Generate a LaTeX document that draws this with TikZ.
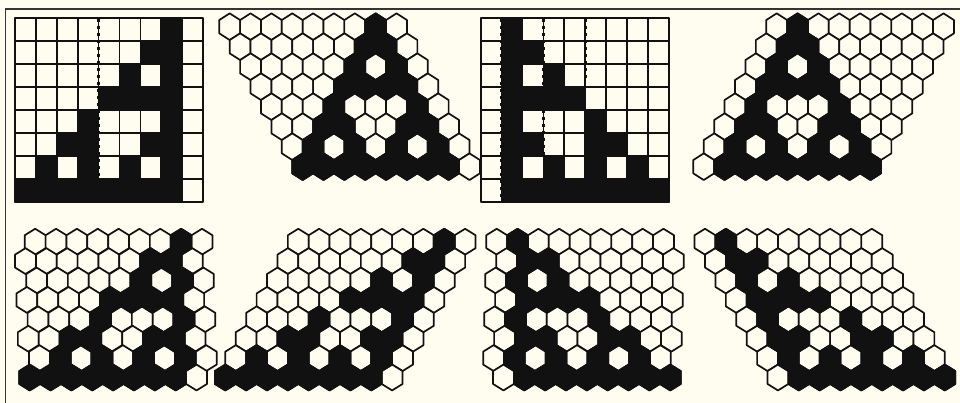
\documentclass[tikz,border=0pt]{standalone}
\definecolor{bgc}{HTML}{FFFDF0}
\definecolor{ink}{HTML}{111111}
\tikzset{
  cellline/.style={draw=ink, line width=1.7pt, line join=round},
  whitecell/.style={cellline, fill=bgc},
  blackcell/.style={cellline, fill=ink},
  dotline/.style={draw=ink, line width=2.6pt, dash pattern=on 3pt off 4pt},
  frameline/.style={draw=ink!85, line width=1.5pt},
}
\newcommand{\blacklist}{0/{7},1/{6,7},2/{5,7},3/{4,5,6,7},4/{3,7},5/{2,3,6,7},6/{1,3,5,7},7/{0,1,2,3,4,5,6,7}}
\newcommand{\hexcell}[4]{%
  \path[#4] ({#1},{#2-#3}) -- ({#1+10.42},{#2-#3/2}) -- ({#1+10.42},{#2+#3/2}) -- ({#1},{#2+#3}) -- ({#1-10.42},{#2+#3/2}) -- ({#1-10.42},{#2-#3/2}) -- cycle;
}
% #1 x0, #2 y0, #3 row step, #4 slant, #5 zigzag, #6 mirror
\newcommand{\hexpanel}[6]{%
  \pgfmathsetmacro{\rv}{#3/1.5}
  \foreach \ri in {0,...,7}{
    \foreach \cj in {0,...,8}{
      \pgfmathsetmacro{\hx}{#1+20.85*(\cj+(#4)*\ri+(#5)*mod(\ri,2))}
      \pgfmathsetmacro{\hy}{#2+#3*\ri}
      \hexcell{\hx}{\hy}{\rv}{whitecell}
    }
  }
  \foreach \ri/\cols in \blacklist{
    \foreach \cc in \cols{
      \pgfmathsetmacro{\cj}{#6*(8-\cc)+(1-#6)*\cc}
      \pgfmathsetmacro{\hx}{#1+20.85*(\cj+(#4)*\ri+(#5)*mod(\ri,2))}
      \pgfmathsetmacro{\hy}{#2+#3*\ri}
      \hexcell{\hx}{\hy}{\rv}{blackcell}
    }
  }
}
% #1 x0, #2 y0, #3 mirror
\newcommand{\sqpanel}[3]{%
  \foreach \ri in {0,...,7}{
    \foreach \cj in {0,...,8}{
      \path[whitecell] ({#1+20.9*\cj},{#2+23*\ri}) rectangle ++(20.9,23);
    }
  }
  \foreach \ri/\cols in \blacklist{
    \foreach \cc in \cols{
      \pgfmathsetmacro{\cj}{#3*(8-\cc)+(1-#3)*\cc}
      \path[blackcell] ({#1+20.9*\cj},{#2+23*\ri}) rectangle ++(20.9,23);
    }
  }
}
\begin{document}
\begin{tikzpicture}[x=1pt,y=-1pt]
\useasboundingbox (0,0) rectangle (960,403);
\fill[bgc] (0,0) rectangle (960,403);
\draw[frameline] (5.5,403) -- (5.5,9) -- (960,9);
% top row
\sqpanel{15}{18}{0}
\hexpanel{229.7}{26.7}{20}{0.5}{0}{0}
\sqpanel{480.7}{18}{1}
\hexpanel{776.7}{26.7}{20}{-0.5}{0}{1}
% bottom row
\hexpanel{35.2}{241.7}{19.4}{0.034}{-0.5}{0}
\hexpanel{298.3}{241.7}{19.4}{-0.5}{0}{0}
\hexpanel{496.7}{241.7}{19.4}{-0.025}{0.5}{1}
\hexpanel{705}{241.7}{19.4}{0.5}{0}{1}
% dotted overlay lines on square grids
\draw[dotline] (35.9,19) -- (35.9,170);
\draw[dotline] (98.6,19) -- (98.6,180);
\draw[dotline] (203,19) -- (203,201);
\draw[dotline] (501.6,19) -- (501.6,201);
\draw[dotline] (543.4,19) -- (543.4,158);
\draw[dotline] (585.2,19) -- (585.2,80);
\draw[dotline] (606.1,19) -- (606.1,112);
\end{tikzpicture}
\end{document}
